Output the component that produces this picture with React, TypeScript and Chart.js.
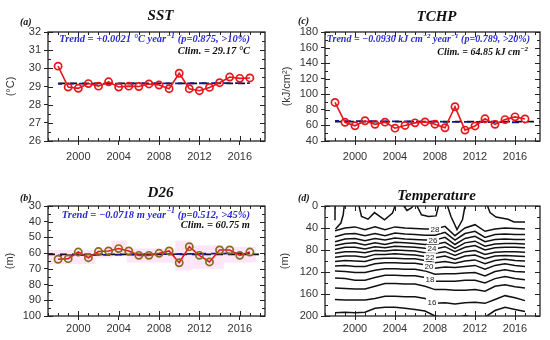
import React, { useEffect, useRef } from "react";
import { Chart, registerables } from "chart.js";
Chart.register(...registerables);

const SANS = '"Liberation Sans", Arial, Helvetica, sans-serif';
const SERIF = '"Liberation Serif", "Times New Roman", serif';

// ---------- shared axis data ----------
const years = [1998, 1999, 2000, 2001, 2002, 2003, 2004, 2005, 2006, 2007, 2008, 2009, 2010, 2011, 2012, 2013, 2014, 2015, 2016, 2017];
const xTickYears = [2000, 2004, 2008, 2012, 2016];

// ---------- (a) SST ----------
const sstValues = [30.12, 28.97, 28.9, 29.16, 29.02, 29.26, 28.97, 29.02, 29.0, 29.14, 29.08, 28.88, 29.73, 28.88, 28.77, 28.95, 29.21, 29.52, 29.45, 29.47];
const sstClim = 29.17;
const sstClimSpan = [1998, 2017];
const sstTrendYears = [1998, 2017];
const sstTrendValues = [29.15, 29.19];
const sstTicks = [26, 27, 28, 29, 30, 31, 32];

// ---------- (c) TCHP ----------
const tchpValues = [89.5, 64, 59.5, 66, 61.4, 64.2, 56.5, 60, 63.3, 64.5, 61.6, 57, 84, 54, 59.3, 68.5, 61.4, 67.5, 71, 68.3];
const tchpClim = 64.85;
const tchpClimSpan = [1998, 2018.5];
const tchpTrendYears = [1998, 2017];
const tchpTrendValues = [65.73, 63.97];
const tchpTicks = [40, 60, 80, 100, 120, 140, 160, 180];

// ---------- (b) D26 ----------
const d26Values = [63.9, 63.5, 59.3, 62.9, 59.0, 58.6, 57.1, 58.6, 61.4, 61.4, 60.1, 58.6, 66.1, 55.9, 61.4, 65.6, 58.0, 58.0, 61.4, 59.3];
const d26Clim = 60.75;
const d26ClimSpan = [1997, 2018.5];
const d26TrendYears = [1998, 2017];
const d26TrendValues = [61.43, 60.07];
const d26Ticks = [30, 40, 50, 60, 70, 80, 90, 100];
const d26BandStart = [1997, 2001.7, 2003.3, 2004.8, 2009.6, 2011.2, 2014.4];
const d26BandEnd = [2001.7, 2003.3, 2004.8, 2009.6, 2011.2, 2014.4, 2017.6];
const d26BandTop = [58, 57, 52, 57, 52, 55, 56];
const d26BandBottom = [67, 63, 62, 66, 71, 70, 66];

// ---------- (d) Temperature (isotherm depths, m) ----------
const depthTicks = [0, 40, 80, 120, 160, 200];
const iso28 = [45, 40, 38, 43, 38, 43, 38, 40, 41, 42, 42, 37, 54, 40, 34, 46, 42, 40, 41, 42];
const iso27 = [56, 51, 50, 54, 50, 54, 49, 51, 52, 53, 53, 48, 62, 50, 46, 57, 52, 51, 52, 52];
const iso26 = [65, 60, 59, 63, 59, 62, 58, 60, 61, 62, 62, 57, 70, 59, 55, 65, 61, 60, 61, 61];
const iso25 = [72, 68, 67, 71, 67, 70, 66, 67, 68, 70, 70, 66, 77, 67, 64, 73, 69, 68, 68, 69];
const iso24 = [79, 75, 75, 78, 74, 76, 73, 74, 75, 77, 78, 74, 83, 75, 72, 80, 76, 75, 75, 76];
const iso23 = [86, 83, 83, 85, 81, 82, 80, 81, 82, 85, 86, 83, 90, 83, 81, 88, 84, 83, 83, 84];
const iso22 = [93, 91, 91, 93, 88, 88, 87, 88, 89, 92, 94, 91, 97, 91, 89, 96, 91, 90, 91, 92];
const iso21 = [101, 99, 100, 101, 96, 95, 95, 96, 96, 99, 103, 101, 104, 100, 98, 105, 99, 97, 99, 100];
const iso20 = [109, 108, 110, 110, 105, 103, 103, 104, 104, 107, 113, 111, 112, 110, 108, 115, 108, 105, 108, 110];
const iso19 = [118, 119, 121, 121, 117, 114, 114, 115, 115, 118, 124, 123, 123, 122, 121, 127, 119, 116, 119, 120];
const iso18 = [131, 132, 135, 135, 130, 126, 126, 127, 127, 130, 137, 137, 137, 135, 135, 140, 132, 128, 132, 134];
const iso17 = [149, 150, 151, 151, 146, 141, 141, 142, 142, 146, 152, 152, 153, 153, 152, 155, 146, 143, 147, 149];
const iso16 = [170, 171, 171, 171, 168, 164, 164, 165, 165, 168, 177, 176, 178, 176, 175, 177, 170, 163, 167, 172];
const iso15 = [194, 193, 194, 193, 186, 184, 184, 186, 188, 191, 200, 204, 205, 199, 204, 202, 190, 184, 188, 192];
const isotherms = [iso28, iso27, iso26, iso25, iso24, iso23, iso22, iso21, iso20, iso19, iso18, iso17, iso16, iso15];
const isothermLevels = [28, 27, 26, 25, 24, 23, 22, 21, 20, 19, 18, 17, 16, 15];

// near-surface 29 °C contour pieces
const warmPatchYears = [
  [1998, 1998],
  [1998.92, 1998.82, 1998.59, 1998.05],
  [2000.4, 2000.65, 2001.3, 2001.95, 2002.95, 2003.75, 2004.0],
  [2004.88, 2005.2, 2005.6, 2005.82],
  [2006.2, 2006.65, 2007.35, 2008.1, 2008.35],
  [2009.25, 2009.6, 2010.2, 2010.75, 2011.0],
  [2013.25, 2013.5, 2014.1, 2015.3, 2015.9, 2017],
];
const warmPatchDepths = [
  [0, 26],
  [0, 16, 31, 42],
  [0, 19, 24, 12, 25, 13, 0],
  [0, 8, 4, 0],
  [0, 16, 19, 18, 0],
  [0, 19, 43, 25, 0],
  [0, 12, 20, 24, 29, 29],
];
const contourLabelLevels = [28, 26, 24, 22, 20, 18, 16];
const contourLabelYears = [2008.0, 2007.8, 2007.7, 2007.5, 2007.4, 2007.5, 2007.7];

// ---------- helpers ----------
type Part = { t: string; sup?: boolean };

function drawRich(ctx: CanvasRenderingContext2D, parts: Part[], xRight: number, y: number, color: string, size: number) {
  const base = `italic bold ${size}px ${SERIF}`;
  const sup = `italic bold ${Math.round(size * 0.72)}px ${SERIF}`;
  let total = 0;
  parts.forEach((p) => {
    ctx.font = p.sup ? sup : base;
    total += ctx.measureText(p.t).width;
  });
  let x = xRight - total;
  ctx.fillStyle = color;
  ctx.textAlign = "left";
  ctx.textBaseline = "alphabetic";
  parts.forEach((p) => {
    ctx.font = p.sup ? sup : base;
    ctx.fillText(p.t, x, p.sup ? y - size * 0.4 : y);
    x += ctx.measureText(p.t).width;
  });
}

interface Spec {
  title: string;
  titleDy: number;
  letter: string;
  letterX: number;
  letterY: number;
  yTitle: string;
  yTitleX: number;
  yTicks: number[];
  yMinor: number;
  reverse: boolean;
  yWidth: number;
  padTop: number;
  xHeight: number;
  xPad: number;
  textSize?: number;
  trend?: Part[];
  trendInset?: number;
  trendDy?: number;
  clim?: Part[];
  climInset?: number;
  climDy?: number;
}

function decorPlugin(spec: Spec) {
  return {
    id: "decor",
    afterDraw(chart: any) {
      const { ctx, chartArea: a, scales } = chart;
      const x = scales.x;
      const y = scales.y;
      ctx.save();
      // inward ticks
      ctx.strokeStyle = "#222";
      ctx.lineWidth = 1;
      ctx.beginPath();
      for (let yr = 1997; yr <= 2018; yr++) {
        const px = Math.round(x.getPixelForValue(yr)) + 0.5;
        const major = xTickYears.includes(yr);
        const len = major ? 5 : 3;
        ctx.moveTo(px, a.bottom);
        ctx.lineTo(px, a.bottom - len);
        ctx.moveTo(px, a.top);
        ctx.lineTo(px, a.top + len);
      }
      const lo = spec.yTicks[0];
      const hi = spec.yTicks[spec.yTicks.length - 1];
      for (let v = lo; v <= hi + 1e-9; v += spec.yMinor) {
        const py = Math.round(y.getPixelForValue(v)) + 0.5;
        const major = spec.yTicks.some((t) => Math.abs(t - v) < 1e-6);
        const len = major ? 5 : 3;
        ctx.moveTo(a.left, py);
        ctx.lineTo(a.left + len, py);
        ctx.moveTo(a.right, py);
        ctx.lineTo(a.right - len, py);
      }
      ctx.stroke();
      // frame
      ctx.lineWidth = 1.3;
      ctx.strokeStyle = "#222";
      ctx.strokeRect(a.left, a.top, a.right - a.left, a.bottom - a.top);

      // title
      ctx.fillStyle = "#111";
      ctx.font = `italic bold 15px ${SERIF}`;
      ctx.textAlign = "center";
      ctx.textBaseline = "alphabetic";
      ctx.fillText(spec.title, (a.left + a.right) / 2 + 4, a.top - spec.titleDy);
      // panel letter
      ctx.font = `italic bold 10px ${SERIF}`;
      ctx.textAlign = "left";
      ctx.fillText(spec.letter, spec.letterX, spec.letterY);
      // y title
      ctx.save();
      ctx.translate(spec.yTitleX, (a.top + a.bottom) / 2);
      ctx.rotate(-Math.PI / 2);
      ctx.font = `11px ${SANS}`;
      ctx.fillStyle = "#333";
      ctx.textAlign = "center";
      ctx.textBaseline = "middle";
      ctx.fillText(spec.yTitle, 0, 0);
      ctx.restore();
      // trend + clim texts
      const ts = spec.textSize || 10.5;
      if (spec.trend) drawRich(ctx, spec.trend, a.right - (spec.trendInset || 0), a.top + (spec.trendDy || 0), "#2a2ad2", ts);
      if (spec.clim) drawRich(ctx, spec.clim, a.right - (spec.climInset || 0), a.top + (spec.climDy || 0), "#111", ts);
      ctx.restore();
    },
  };
}

const bandPlugin = {
  id: "bands",
  beforeDatasetsDraw(chart: any) {
    const { ctx, chartArea: a, scales } = chart;
    ctx.save();
    ctx.beginPath();
    ctx.rect(a.left, a.top, a.right - a.left, a.bottom - a.top);
    ctx.clip();
    ctx.fillStyle = "rgba(255, 175, 235, 0.33)";
    d26BandStart.forEach((s, i) => {
      const x0 = scales.x.getPixelForValue(s);
      const x1 = scales.x.getPixelForValue(d26BandEnd[i]);
      const y0 = scales.y.getPixelForValue(d26BandTop[i]);
      const y1 = scales.y.getPixelForValue(d26BandBottom[i]);
      ctx.fillRect(x0, Math.min(y0, y1), x1 - x0, Math.abs(y1 - y0));
    });
    ctx.restore();
  },
};

const contourLabelPlugin = {
  id: "contourLabels",
  afterDatasetsDraw(chart: any) {
    const { ctx, scales } = chart;
    ctx.save();
    ctx.font = `8px ${SANS}`;
    ctx.textAlign = "center";
    ctx.textBaseline = "middle";
    contourLabelLevels.forEach((lev, k) => {
      const arr = isotherms[isothermLevels.indexOf(lev)];
      const yr = contourLabelYears[k];
      const i = Math.max(0, Math.min(years.length - 2, Math.floor(yr - years[0])));
      const f = yr - years[i];
      const depth = arr[i] + (arr[i + 1] - arr[i]) * f;
      const px = scales.x.getPixelForValue(yr);
      const py = scales.y.getPixelForValue(depth);
      const w = ctx.measureText(String(lev)).width + 3;
      ctx.fillStyle = "#fff";
      ctx.fillRect(px - w / 2, py - 4, w, 8);
      ctx.fillStyle = "#222";
      ctx.fillText(String(lev), px, py + 0.5);
    });
    ctx.restore();
  },
};

function buildOptions(spec: Spec) {
  const lo = spec.yTicks[0];
  const hi = spec.yTicks[spec.yTicks.length - 1];
  return {
    animation: false,
    responsive: false,
    maintainAspectRatio: false,
    devicePixelRatio: 1,
    layout: { padding: { top: spec.padTop, right: 10, left: 0, bottom: 0 } },
    plugins: { legend: { display: false }, tooltip: { enabled: false }, title: { display: false } },
    elements: { line: { tension: 0 } },
    scales: {
      x: {
        type: "linear",
        min: 1997,
        max: 2018.5,
        afterBuildTicks: (s: any) => {
          s.ticks = xTickYears.map((v) => ({ value: v }));
        },
        afterFit: (s: any) => {
          s.height = spec.xHeight;
        },
        ticks: {
          callback: (v: any) => String(v),
          font: { family: SANS, size: 11 },
          color: "#333",
          padding: spec.xPad,
          maxRotation: 0,
          autoSkip: false,
        },
        grid: { drawOnChartArea: false, drawTicks: true, tickLength: 4, color: "#222", lineWidth: 1 },
        border: { display: false },
      },
      y: {
        type: "linear",
        min: lo,
        max: hi,
        reverse: spec.reverse,
        afterBuildTicks: (s: any) => {
          s.ticks = spec.yTicks.map((v) => ({ value: v }));
        },
        afterFit: (s: any) => {
          s.width = spec.yWidth;
        },
        ticks: {
          callback: (v: any) => String(v),
          font: { family: SANS, size: 11 },
          color: "#333",
          padding: 3,
          autoSkip: false,
        },
        grid: { drawOnChartArea: false, drawTicks: true, tickLength: 4, color: "#222", lineWidth: 1 },
        border: { display: false },
      },
    },
  };
}

function seriesDatasets(values: number[], climSpan: number[], clim: number, trendYears: number[], trendValues: number[], pointColor: string) {
  return [
    {
      data: years.map((x, i) => ({ x, y: values[i] })),
      borderColor: "#e8161b",
      borderWidth: 1.6,
      pointRadius: 3.6,
      pointBorderWidth: 1.7,
      pointBorderColor: pointColor,
      pointBackgroundColor: "rgba(0,0,0,0)",
    },
    {
      data: trendYears.map((x, i) => ({ x, y: trendValues[i] })),
      borderColor: "#16168a",
      borderWidth: 1.8,
      borderDash: [7, 5],
      borderDashOffset: 3,
      pointRadius: 0,
    },
    {
      data: climSpan.map((x) => ({ x, y: clim })),
      borderColor: "#111",
      borderWidth: 1.8,
      borderDash: [7, 5],
      pointRadius: 0,
    },
  ];
}

const specA: Spec = {
  title: "SST", titleDy: 12.5, letter: "(a)", letterX: 20, letterY: 25, yTitle: "(°C)", yTitleX: 11,
  yTicks: sstTicks, yMinor: 0.5, reverse: false, yWidth: 48, padTop: 32, xHeight: 29, xPad: 5,
  trend: [{ t: "Trend = +0.0021 °C year" }, { t: "−1", sup: true }, { t: " (p=0.875, >10%)" }],
  trendInset: 15, trendDy: 10,
  clim: [{ t: "Clim. = 29.17 °C" }], climInset: 15, climDy: 22,
};
const specC: Spec = {
  title: "TCHP", titleDy: 11.5, letter: "(c)", letterX: 23, letterY: 24, yTitle: "(kJ/cm²)", yTitleX: 12,
  yTicks: tchpTicks, yMinor: 10, reverse: false, yWidth: 50, padTop: 32, xHeight: 29, xPad: 5, textSize: 10,
  trend: [{ t: "Trend = −0.0930 kJ cm" }, { t: "−2", sup: true }, { t: " year" }, { t: "−1", sup: true }, { t: " (p=0.789, >20%)" }],
  trendInset: 10, trendDy: 10,
  clim: [{ t: "Clim. = 64.85 kJ cm" }, { t: "−2", sup: true }], climInset: 12, climDy: 23,
};
const specB: Spec = {
  title: "D26", titleDy: 9.3, letter: "(b)", letterX: 20, letterY: 31, yTitle: "(m)", yTitleX: 10,
  yTicks: d26Ticks, yMinor: 5, reverse: true, yWidth: 48, padTop: 36, xHeight: 24, xPad: 2,
  trend: [{ t: "Trend = −0.0718 m year" }, { t: "−1", sup: true }, { t: " (p=0.512, >45%)" }],
  trendInset: 15, trendDy: 11.5,
  clim: [{ t: "Clim. = 60.75 m" }], climInset: 15, climDy: 21.5,
};
const specD: Spec = {
  title: "Temperature", titleDy: 6.5, letter: "(d)", letterX: 23, letterY: 31, yTitle: "(m)", yTitleX: 10,
  yTicks: depthTicks, yMinor: 20, reverse: true, yWidth: 50, padTop: 36, xHeight: 24, xPad: 2,
};

function configA() {
  return {
    type: "line",
    data: { datasets: seriesDatasets(sstValues, sstClimSpan, sstClim, sstTrendYears, sstTrendValues, "#e8161b") },
    options: buildOptions(specA),
    plugins: [decorPlugin(specA)],
  };
}
function configC() {
  return {
    type: "line",
    data: { datasets: seriesDatasets(tchpValues, tchpClimSpan, tchpClim, tchpTrendYears, tchpTrendValues, "#e8161b") },
    options: buildOptions(specC),
    plugins: [decorPlugin(specC)],
  };
}
function configB() {
  return {
    type: "line",
    data: { datasets: seriesDatasets(d26Values, d26ClimSpan, d26Clim, d26TrendYears, d26TrendValues, "#8a6a1a") },
    options: buildOptions(specB),
    plugins: [bandPlugin, decorPlugin(specB)],
  };
}
function configD() {
  const isoSets = isotherms.map((arr) => ({
    data: years.map((x, i) => ({ x, y: arr[i] })),
    borderColor: "#111",
    borderWidth: 1.5,
    pointRadius: 0,
  }));
  const warmSets = warmPatchYears.map((ys, k) => ({
    data: ys.map((x, i) => ({ x, y: warmPatchDepths[k][i] })),
    borderColor: "#111",
    borderWidth: 1.5,
    pointRadius: 0,
  }));
  return {
    type: "line",
    data: { datasets: [...isoSets, ...warmSets] },
    options: buildOptions(specD),
    plugins: [contourLabelPlugin, decorPlugin(specD)],
  };
}

function Panel({ make, left, top }: { make: () => any; left: number; top: number }) {
  const ref = useRef<HTMLCanvasElement>(null);
  useEffect(() => {
    const chart = new Chart(ref.current as HTMLCanvasElement, make());
    return () => chart.destroy();
  }, []);
  return (
    <canvas
      ref={ref}
      width={275}
      height={170}
      style={{ position: "absolute", left, top, width: 275, height: 170 }}
    />
  );
}

export default function App() {
  return (
    <div style={{ position: "absolute", left: 0, top: 0, width: 550, height: 340, background: "#fff" }}>
      <Panel make={configA} left={0} top={0} />
      <Panel make={configC} left={275} top={0} />
      <Panel make={configB} left={0} top={170} />
      <Panel make={configD} left={275} top={170} />
    </div>
  );
}
